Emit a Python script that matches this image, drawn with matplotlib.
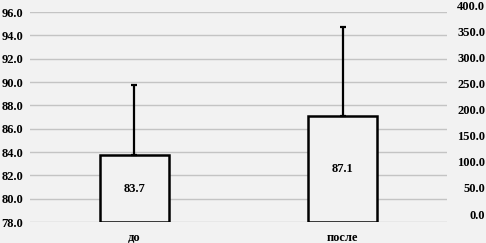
import matplotlib
matplotlib.use("Agg")
import matplotlib.pyplot as plt

categories = ["до", "после"]
means = [83.7, 87.1]
err_upper = [6.0, 7.6]
left_ticks = [78, 80, 82, 84, 86, 88, 90, 92, 94, 96]
right_ticks = [0, 50, 100, 150, 200, 250, 300, 350, 400]

W, H = 486, 243
bg = "#f2f2f2"
fs = 9
plt.rcParams['font.family'] = ['Liberation Serif', 'DejaVu Serif']
fig = plt.figure(figsize=(W / 100, H / 100), dpi=100, facecolor=bg)

ax = fig.add_axes([30 / W, (H - 222) / H, (447 - 30) / W, 210 / H])
ax.set_facecolor(bg)
base = left_ticks[0]
x = list(range(len(categories)))
ax.bar(x, [m - base for m in means], bottom=base, width=0.33,
       color=bg, edgecolor="black", linewidth=1.8, zorder=3)
ax.errorbar(x, means, yerr=[[0] * len(means), err_upper], fmt="none",
            ecolor="black", elinewidth=1.6, capsize=2, capthick=1.6, zorder=4)
for xi, m in zip(x, means):
    ax.text(xi, (m + base) / 2, f"{m:.1f}", ha="center", va="center",
            fontsize=fs, fontweight="bold", zorder=5)
ax.set_xlim(-0.5, len(categories) - 0.5)
ax.set_ylim(left_ticks[0], left_ticks[-1])
ax.set_yticks(left_ticks)
ax.set_yticklabels([f"{t:.1f}" for t in left_ticks], fontsize=fs, fontweight="bold")
ax.set_xticks(x)
ax.set_xticklabels(categories, fontsize=fs, fontweight="bold")
ax.tick_params(axis="both", length=0)
ax.tick_params(axis="y", pad=5)
ax.tick_params(axis="x", pad=7)
ax.grid(axis="y", color="#c4c4c4", linewidth=1)
ax.set_axisbelow(True)
for s in ax.spines.values():
    s.set_visible(False)

ax2 = fig.add_axes([30 / W, (H - 214) / H, (447 - 30) / W, 209 / H])
ax2.patch.set_visible(False)
ax2.set_ylim(right_ticks[0], right_ticks[-1])
ax2.set_xticks([])
ax2.yaxis.tick_right()
ax2.set_yticks(right_ticks)
ax2.set_yticklabels([f"{t:.1f}" for t in right_ticks], fontsize=fs, fontweight="bold", ha="right")
ax2.tick_params(axis="y", length=0, pad=27.5)
for s in ax2.spines.values():
    s.set_visible(False)

fig.savefig("out.png", dpi=100, facecolor=bg)
